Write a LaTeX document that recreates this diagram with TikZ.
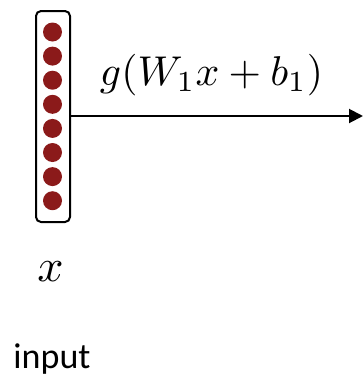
\documentclass[tikz,border=0pt]{standalone}
\usepackage{fontspec}
\newfontfamily\labelfont{Carlito}
\usetikzlibrary{arrows.meta}
\definecolor{neuron}{RGB}{139,26,26}
\tikzset{
  vecbox/.style={draw=black, line width=2pt, rounded corners=5pt, minimum width=34pt, minimum height=211pt, inner sep=0pt},
  neuronnode/.style={circle, fill=neuron, minimum size=19pt, inner sep=0pt},
  conn/.style={line width=2pt, -{Triangle[length=14pt,width=14pt]}},
  mathlabel/.style={inner sep=0pt},
  textlabel/.style={font=\labelfont\fontsize{36}{42}\selectfont, inner sep=0pt, anchor=base}
}
\begin{document}
\begin{tikzpicture}[x=1pt,y=-1pt]
\useasboundingbox (0,0) rectangle (364,376);
\node[vecbox] (vec) at (53,116.5) {};
\foreach \i in {1,...,8} {
  \node[neuronnode] (c\i) at (52.5,{32+24.1*(\i-1)}) {};
}
\coordinate (out) at (363,116);
\draw[conn] (vec.east |- out) -- (out);
\node[mathlabel] (lab) at (211.5,75) {\resizebox{223pt}{!}{$g(W_1x+b_1)$}};
\node[mathlabel] (xl) at (50.5,272) {\scalebox{4.6}{$x$}};
\node[textlabel] (inp) at (52,368) {input};
\end{tikzpicture}
\end{document}
